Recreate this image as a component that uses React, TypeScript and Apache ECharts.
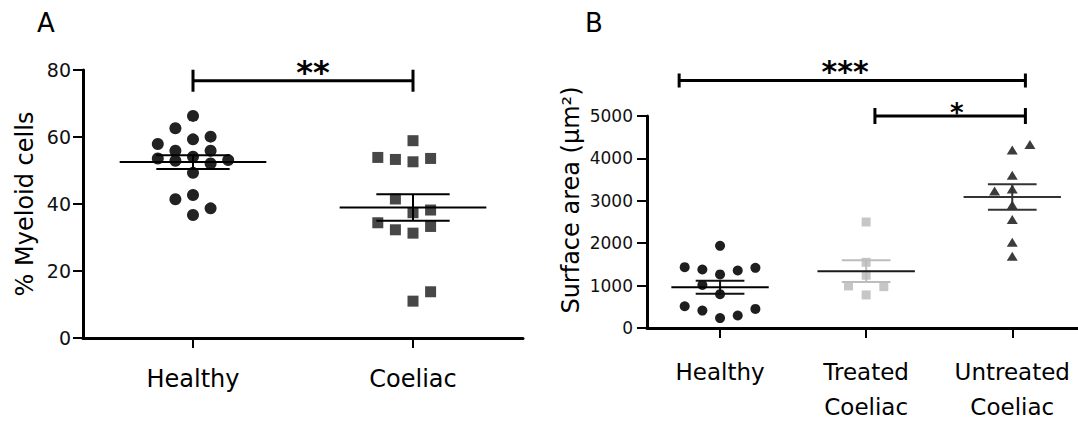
import React, { useEffect, useRef } from 'react';
import * as echarts from 'echarts';

// ---------- Panel A: % Myeloid cells ----------
const panelACategories = ['Healthy', 'Coeliac'];
const panelATicks = [0, 20, 40, 60, 80];
const healthyMyeloid = [66.3, 62.6, 59.3, 60.1, 57.9, 55.9, 55.9, 53.6, 52.9, 54.1, 52.1, 53.1, 49.3, 41.4, 42.7, 38.7, 36.7];
const healthyMyeloidSlot = [0, -1, 0, 1, -2, -1, 1, -2, -1, 0, 1, 2, 0, -1, 0, 1, 0];
const coeliacMyeloid = [58.9, 53.9, 53.3, 52.6, 53.6, 41.5, 37.4, 38.2, 34.4, 32.3, 31.3, 33.3, 11.0, 13.8];
const coeliacMyeloidSlot = [0, -2, -1, 0, 1, -1, 0, 1, -2, -1, 0, 1, 0, 1];

// ---------- Panel B: Surface area ----------
const panelBCategories = ['Healthy', 'Treated\nCoeliac', 'Untreated\nCoeliac'];
const panelBTicks = [0, 1000, 2000, 3000, 4000, 5000];
const healthyArea = [1938, 1434, 1380, 1264, 1357, 1419, 1016, 798, 512, 411, 233, 295, 450];
const healthyAreaSlot = [0, -2, -1, 0, 1, 2, -1, 0, -2, -1, 0, 1, 2];
const treatedArea = [2500, 1550, 1245, 993, 975, 780];
const treatedAreaSlot = [0, 0, 0, -1, 1, 0];
const untreatedArea = [4330, 4200, 3600, 3230, 3280, 2900, 2560, 2020, 1690];
const untreatedAreaSlot = [1, 0, 0, -1, 0, 0, 0, 0, 0];

// ---------- Significance annotations ----------
const sigAFrom = [1];
const sigATo = [2];
const sigALevel = [76.8];
const sigALabel = ['**'];
const sigALabelX = [1.545];

const sigBFrom = [0.72, 2.06];
const sigBTo = [3.09, 3.09];
const sigBLevel = [5837, 5000];
const sigBLabel = ['***', '*'];
const sigBLabelX = [1.856, 2.62];

const FONT = 'DejaVu Sans';

function meanSem(values: number[]) {
  const n = values.length;
  const m = values.reduce((a, b) => a + b, 0) / n;
  const sd = Math.sqrt(values.reduce((a, b) => a + (b - m) * (b - m), 0) / (n - 1));
  return [m, sd / Math.sqrt(n)];
}

function jitter(cat: number, values: number[], slots: number[], w: number) {
  return values.map((v, i) => [cat + slots[i] * w, v]);
}

function errorSeries(xi: number, data: number[][], colors: { mean: string; sem: string }[]) {
  return {
    type: 'custom',
    xAxisIndex: xi,
    yAxisIndex: xi,
    z: 10,
    clip: false,
    data,
    renderItem: (params: any, api: any) => {
      const x = api.value(0);
      const m = api.value(1);
      const s = api.value(2);
      const c = api.coord([x, m]);
      const up = api.coord([x, m + s]);
      const dn = api.coord([x, m - s]);
      const unit = api.size([1, 0])[0];
      const col = colors[params.dataIndex];
      const lw = 2;
      return {
        type: 'group',
        children: [
          { type: 'line', shape: { x1: c[0], y1: up[1], x2: c[0], y2: dn[1] }, style: { stroke: col.sem, lineWidth: lw } },
          { type: 'line', shape: { x1: c[0] - unit / 6, y1: up[1], x2: c[0] + unit / 6, y2: up[1] }, style: { stroke: col.sem, lineWidth: lw } },
          { type: 'line', shape: { x1: c[0] - unit / 6, y1: dn[1], x2: c[0] + unit / 6, y2: dn[1] }, style: { stroke: col.sem, lineWidth: lw } },
          { type: 'line', shape: { x1: c[0] - unit / 3, y1: c[1], x2: c[0] + unit / 3, y2: c[1] }, style: { stroke: col.mean, lineWidth: lw } },
        ],
      };
    },
  };
}

function bracketSeries(
  xi: number,
  from: number[],
  to: number[],
  level: number[],
  labels: string[],
  labelX: number[],
  tickHalf: number[],
  fontSize: number[],
  lift: number[],
  lw: number
) {
  return {
    type: 'custom',
    xAxisIndex: xi,
    yAxisIndex: xi,
    z: 10,
    clip: false,
    encode: { x: [0, 1], y: 2 },
    data: from.map((f, i) => [f, to[i], level[i]]),
    renderItem: (params: any, api: any) => {
      const i = params.dataIndex;
      const a = api.coord([api.value(0), api.value(2)]);
      const b = api.coord([api.value(1), api.value(2)]);
      const lp = api.coord([labelX[i], api.value(2)]);
      const th = tickHalf[i];
      const st = { stroke: '#000', lineWidth: lw };
      return {
        type: 'group',
        children: [
          { type: 'line', shape: { x1: a[0], y1: a[1], x2: b[0], y2: b[1] }, style: st },
          { type: 'line', shape: { x1: a[0], y1: a[1] - th, x2: a[0], y2: a[1] + th }, style: st },
          { type: 'line', shape: { x1: b[0], y1: b[1] - th, x2: b[0], y2: b[1] + th }, style: st },
          {
            type: 'text',
            x: lp[0],
            y: lp[1] - lift[i],
            style: {
              text: labels[i],
              fill: '#000',
              fontSize: fontSize[i],
              fontWeight: 'bold',
              fontFamily: FONT,
              align: 'center',
              verticalAlign: 'middle',
            },
          },
        ],
      };
    },
  };
}

export default function App() {
  const ref = useRef<HTMLDivElement>(null);

  useEffect(() => {
    if (!ref.current) return;
    const chart = echarts.init(ref.current, undefined, { renderer: 'svg' });

    const [mH, sH] = meanSem(healthyMyeloid);
    const [mC, sC] = meanSem(coeliacMyeloid);
    const [mBH, sBH] = meanSem(healthyArea);
    const [mBT, sBT] = meanSem(treatedArea);
    const [mBU, sBU] = meanSem(untreatedArea);

    const axisLine = { show: true, onZero: false, lineStyle: { color: '#000', width: 3 } };
    const axisTick = { show: true, length: 10, lineStyle: { color: '#000', width: 2 } };
    const plain = (v: number) => String(v);

    const option: any = {
      animation: false,
      backgroundColor: '#fff',
      grid: [
        { left: 83, top: 70, width: 440, height: 268 },
        { left: 647, top: 116, width: 431, height: 215 },
      ],
      xAxis: [
        {
          gridIndex: 0,
          type: 'value',
          min: 0.5,
          max: 2.5,
          axisLine,
          axisTick: { ...axisTick, customValues: [1, 2] },
          axisLabel: {
            customValues: [1, 2],
            formatter: (v: number) => panelACategories[Math.round(v) - 1],
            margin: 29,
            fontSize: 24,
            fontFamily: FONT,
            color: '#000',
          },
          splitLine: { show: false },
        },
        {
          gridIndex: 1,
          type: 'value',
          min: 0.5,
          max: 3.45,
          axisLine,
          axisTick: { ...axisTick, customValues: [1, 2, 3] },
          axisLabel: {
            customValues: [1, 2, 3],
            formatter: (v: number) => panelBCategories[Math.round(v) - 1],
            margin: 26,
            fontSize: 23,
            lineHeight: 35,
            fontFamily: FONT,
            color: '#000',
          },
          splitLine: { show: false },
        },
      ],
      yAxis: [
        {
          gridIndex: 0,
          type: 'value',
          min: panelATicks[0],
          max: panelATicks[panelATicks.length - 1],
          interval: 20,
          axisLine,
          axisTick,
          axisLabel: { margin: 12, fontSize: 19, fontFamily: FONT, color: '#111', formatter: plain },
          splitLine: { show: false },
          name: '% Myeloid cells',
          nameLocation: 'middle',
          nameGap: 46,
          nameTextStyle: { fontSize: 24, fontFamily: FONT, color: '#000' },
        },
        {
          gridIndex: 1,
          type: 'value',
          min: panelBTicks[0],
          max: panelBTicks[panelBTicks.length - 1],
          interval: 1000,
          axisLine,
          axisTick,
          axisLabel: { margin: 14, fontSize: 17, fontFamily: FONT, color: '#111', formatter: plain },
          splitLine: { show: false },
        },
      ],
      graphic: [
        { type: 'text', x: 46, y: 23, style: { text: 'A', fontSize: 26, fontFamily: FONT, fill: '#000', align: 'center', verticalAlign: 'middle' } },
        { type: 'text', x: 594, y: 23, style: { text: 'B', fontSize: 26, fontFamily: FONT, fill: '#000', align: 'center', verticalAlign: 'middle' } },
        {
          type: 'text',
          x: 571,
          y: 200,
          rotation: Math.PI / 2,
          style: { text: 'Surface area (μm²)', fontSize: 24, fontFamily: FONT, fill: '#000', align: 'center', verticalAlign: 'middle' },
        },
      ],
      series: [
        {
          type: 'scatter',
          xAxisIndex: 0,
          yAxisIndex: 0,
          symbol: 'circle',
          symbolSize: 12,
          itemStyle: { color: '#222', opacity: 1 },
          data: jitter(1, healthyMyeloid, healthyMyeloidSlot, 0.08),
        },
        {
          type: 'scatter',
          xAxisIndex: 0,
          yAxisIndex: 0,
          symbol: 'rect',
          symbolSize: 11,
          itemStyle: { color: '#474747', opacity: 1 },
          data: jitter(2, coeliacMyeloid, coeliacMyeloidSlot, 0.08),
        },
        {
          type: 'scatter',
          xAxisIndex: 1,
          yAxisIndex: 1,
          symbol: 'circle',
          symbolSize: 10,
          itemStyle: { color: '#1e1e1e', opacity: 1 },
          data: jitter(1, healthyArea, healthyAreaSlot, 0.121),
        },
        {
          type: 'scatter',
          xAxisIndex: 1,
          yAxisIndex: 1,
          symbol: 'rect',
          symbolSize: 9,
          itemStyle: { color: '#c6c6c6', opacity: 1 },
          data: jitter(2, treatedArea, treatedAreaSlot, 0.121),
        },
        {
          type: 'scatter',
          xAxisIndex: 1,
          yAxisIndex: 1,
          symbol: 'triangle',
          symbolSize: [11, 9],
          itemStyle: { color: '#3c3c3c', opacity: 1 },
          data: jitter(3, untreatedArea, untreatedAreaSlot, 0.121),
        },
        errorSeries(0, [[1, mH, sH], [2, mC, sC]], [
          { mean: '#000', sem: '#000' },
          { mean: '#000', sem: '#000' },
        ]),
        errorSeries(1, [[1, mBH, sBH], [2, mBT, sBT], [3, mBU, sBU]], [
          { mean: '#000', sem: '#111' },
          { mean: '#1a1a1a', sem: '#bdbdbd' },
          { mean: '#333', sem: '#333' },
        ]),
        bracketSeries(0, sigAFrom, sigATo, sigALevel, sigALabel, sigALabelX, [11], [32], [9], 3),
        bracketSeries(1, sigBFrom, sigBTo, sigBLevel, sigBLabel, sigBLabelX, [7, 8], [30, 26], [9, 3], 3),
      ],
    };

    chart.setOption(option);
    return () => chart.dispose();
  }, []);

  return (
    <div
      ref={ref}
      style={{ position: 'fixed', left: 0, top: 0, width: 1078, height: 424, background: '#fff' }}
    />
  );
}
